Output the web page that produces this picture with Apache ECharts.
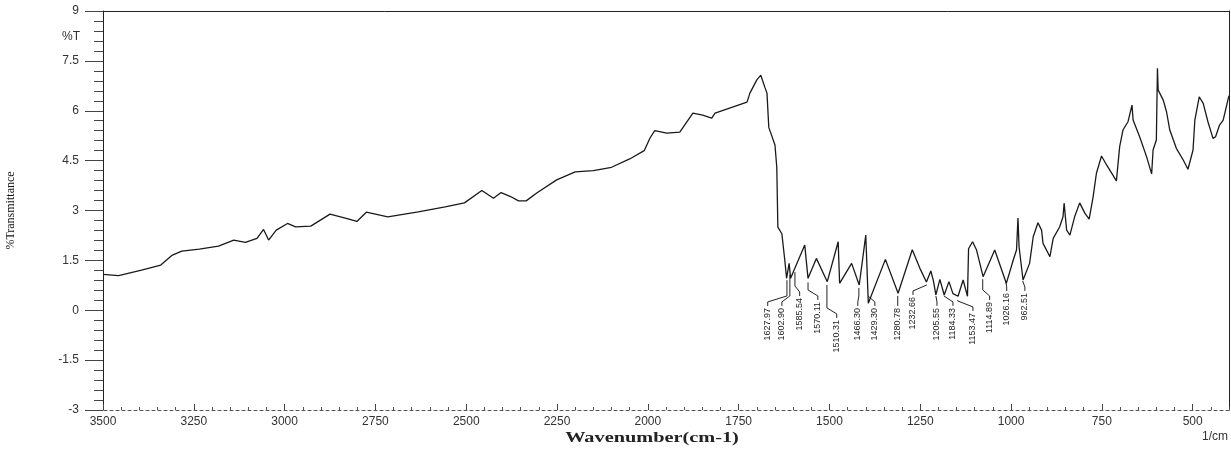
<!DOCTYPE html>
<html style="height: 100%;">
<head>
    <meta charset="UTF-8">
    <script src="https://cdn.jsdelivr.net/npm/echarts/dist/echarts.min.js"></script>
</head>
<body style="height: 100%; margin: 0; background: #fff;">
    <div id="chart" style="width: 1231px; height: 452px;"></div>

    <script type="text/javascript">
        // FTIR spectrum (wavenumber in 1/cm, %T)
        var wavenumber = [
            3500, 3457, 3394, 3341, 3309, 3283, 3235, 3182, 3140, 3108,
            3076, 3058, 3044, 3023, 2992, 2970, 2928, 2875, 2833, 2801,
            2775, 2716, 2632, 2558, 2505, 2457, 2425, 2404, 2378, 2356,
            2335, 2304, 2251, 2200, 2150, 2100, 2050, 2010, 1994, 1981,
            1948, 1912, 1876, 1849, 1824, 1815, 1727, 1719, 1700, 1689,
            1678, 1672, 1667, 1650, 1645, 1642, 1631, 1623, 1618, 1611,
            1607, 1568, 1559, 1536, 1506, 1476, 1472, 1439, 1418, 1400,
            1393, 1346, 1311, 1272, 1251, 1233, 1221, 1214, 1207, 1196,
            1184, 1171, 1160, 1146, 1132, 1120, 1117, 1106, 1095, 1077,
            1045, 1013, 994, 985, 981, 978, 967, 949, 939, 926,
            916, 912, 893, 884, 866, 857, 854, 847, 838, 825,
            811, 797, 785, 774, 765, 751, 737, 710, 701, 692,
            678, 667, 664, 646, 627, 613, 609, 600, 597, 595,
            581, 572, 563, 545, 526, 513, 499, 494, 482, 471,
            458, 444, 437, 426, 416, 402, 400
        ];
        var transmittance = [
            1.08, 1.04, 1.21, 1.36, 1.66, 1.78, 1.84, 1.93, 2.11, 2.04,
            2.16, 2.43, 2.11, 2.41, 2.61, 2.51, 2.53, 2.89, 2.77, 2.67,
            2.95, 2.81, 2.96, 3.11, 3.23, 3.60, 3.37, 3.54, 3.42, 3.29,
            3.29, 3.54, 3.92, 4.16, 4.20, 4.30, 4.55, 4.80, 5.18, 5.40,
            5.33, 5.36, 5.93, 5.87, 5.78, 5.93, 6.26, 6.53, 6.93, 7.07,
            6.71, 6.53, 5.50, 4.97, 4.30, 2.50, 2.30, 1.51, 0.96, 1.41,
            0.96, 1.96, 0.96, 1.56, 0.86, 2.06, 0.81, 1.41, 0.76, 2.26,
            0.21, 1.53, 0.51, 1.82, 1.26, 0.85, 1.18, 0.90, 0.46, 0.93,
            0.46, 0.86, 0.50, 0.42, 0.91, 0.42, 1.85, 2.06, 1.81, 1.01,
            1.81, 0.81, 1.51, 1.81, 2.77, 1.91, 0.91, 1.41, 2.21, 2.63,
            2.41, 2.01, 1.61, 2.16, 2.51, 2.81, 3.22, 2.41, 2.26, 2.81,
            3.23, 2.92, 2.74, 3.42, 4.12, 4.64, 4.37, 3.89, 4.92, 5.42,
            5.67, 6.17, 5.72, 5.22, 4.62, 4.10, 4.82, 5.12, 7.28, 6.62,
            6.32, 5.97, 5.42, 4.87, 4.52, 4.24, 4.82, 5.72, 6.42, 6.22,
            5.67, 5.17, 5.22, 5.57, 5.72, 6.37, 6.45
        ];

        // peak picks (text) and the wavenumber the leader line points at
        var peakText = ['1627.97', '1602.90', '1585.54', '1570.11', '1510.31', '1466.30', '1429.30',
            '1280.78', '1232.66', '1205.55', '1184.33', '1153.47', '1114.89', '1026.16', '962.51'];
        var peakAnchor = [1617, 1609, 1595, 1559, 1507, 1419, 1394, 1312, 1232, 1207, 1185, 1147, 1078, 1015, 968];
        // where the rotated labels sit (axis units: x in 1/cm, top of text in %T)
        var labelX = [1670, 1631, 1582, 1532, 1480, 1422, 1375, 1312, 1270, 1204, 1160, 1105, 1059, 1012, 962];
        var labelTop = [0.07, 0.07, 0.37, 0.25, -0.29, 0.07, 0.07, 0.07, 0.40, 0.07, 0.07, -0.08, 0.25, 0.52, 0.52];

        var majorTicks = [500, 750, 1000, 1250, 1500, 1750, 2000, 2250, 2500, 2750, 3000, 3250, 3500];

        // %T of the spectrum at a given wavenumber (for where a leader line ends)
        function valueAt(w) {
            for (var i = 0; i < wavenumber.length - 1; i++) {
                if (wavenumber[i] >= w && wavenumber[i + 1] <= w) {
                    var t = (wavenumber[i] - w) / (wavenumber[i] - wavenumber[i + 1]);
                    return transmittance[i] + t * (transmittance[i + 1] - transmittance[i]);
                }
            }
            return transmittance[transmittance.length - 1];
        }

        var spectrum = wavenumber.map(function (w, i) { return [w, transmittance[i]]; });
        var peaks = peakText.map(function (t, i) {
            return [labelX[i], labelTop[i], peakAnchor[i], valueAt(peakAnchor[i])];
        });

        var sansFont = '"Liberation Sans", Arial, sans-serif';
        var axisColor = '#333';

        var chart = echarts.init(document.getElementById('chart'), null, { renderer: 'canvas' });

        var option = {
            animation: false,
            backgroundColor: '#fff',
            grid: {
                left: 103,
                right: 2,
                top: 11,
                bottom: 42,
                outerBoundsMode: 'none',
                containLabel: false
            },
            xAxis: [
                {
                    // minor ticks + dashed base line
                    type: 'value',
                    min: 400,
                    max: 3500,
                    interval: 50,
                    inverse: true,
                    position: 'bottom',
                    axisLine: { show: true, onZero: false, lineStyle: { color: '#555', width: 1, type: [3, 3] } },
                    axisTick: { show: true, inside: true, length: 3, lineStyle: { color: '#555', width: 1 } },
                    axisLabel: { show: false },
                    splitLine: { show: false }
                },
                {
                    // major ticks and labels every 250
                    type: 'value',
                    min: 400,
                    max: 3500,
                    inverse: true,
                    position: 'bottom',
                    axisLine: { show: false, onZero: false },
                    axisTick: { show: true, inside: true, length: 6, customValues: majorTicks,
                        lineStyle: { color: '#444', width: 1 } },
                    axisLabel: { show: true, customValues: majorTicks, margin: 6,
                        formatter: function (v) { return String(v); },
                        color: axisColor, fontFamily: sansFont, fontSize: 12 },
                    splitLine: { show: false }
                },
                {
                    // top frame
                    type: 'value',
                    min: 400,
                    max: 3500,
                    inverse: true,
                    position: 'top',
                    axisLine: { show: true, onZero: false, lineStyle: { color: '#222', width: 1 } },
                    axisTick: { show: false },
                    axisLabel: { show: false },
                    splitLine: { show: false }
                }
            ],
            yAxis: [
                {
                    type: 'value',
                    min: -3,
                    max: 9,
                    interval: 1.5,
                    name: '%Transmittance',
                    nameLocation: 'middle',
                    nameRotate: 90,
                    nameGap: 86,
                    nameTextStyle: { fontFamily: '"Liberation Serif", "Times New Roman", serif',
                        fontSize: 12, color: '#111' },
                    axisLine: { show: true, onZero: false, lineStyle: { color: '#222', width: 1 } },
                    axisTick: { show: true, inside: false, length: 18, lineStyle: { color: '#444', width: 1 } },
                    minorTick: { show: true, splitNumber: 5, length: 9, lineStyle: { color: '#444', width: 1 } },
                    axisLabel: { margin: 24, color: axisColor, fontFamily: sansFont, fontSize: 12 },
                    splitLine: { show: false }
                },
                {
                    // right frame
                    type: 'value',
                    min: -3,
                    max: 9,
                    position: 'right',
                    axisLine: { show: true, onZero: false, lineStyle: { color: '#222', width: 1 } },
                    axisTick: { show: false },
                    axisLabel: { show: false },
                    splitLine: { show: false }
                }
            ],
            graphic: [
                {
                    type: 'text', x: 80, y: 37,
                    style: { text: '%T', align: 'right', verticalAlign: 'middle',
                        font: '12px ' + sansFont, fill: axisColor }
                },
                {
                    type: 'text', x: 652, y: 438, scaleX: 1.45,
                    style: { text: 'Wavenumber(cm-1)', align: 'center', verticalAlign: 'middle',
                        font: 'bold 14px "Liberation Serif", "Times New Roman", serif', fill: '#222' }
                },
                {
                    type: 'text', x: 1228, y: 437,
                    style: { text: '1/cm', align: 'right', verticalAlign: 'middle',
                        font: '12px ' + sansFont, fill: axisColor }
                }
            ],
            series: [
                {
                    name: 'Spectrum',
                    type: 'line',
                    xAxisIndex: 0,
                    yAxisIndex: 0,
                    data: spectrum,
                    showSymbol: false,
                    smooth: false,
                    lineStyle: { color: '#1a1a1a', width: 1.3 },
                    z: 3
                },
                {
                    name: 'Peaks',
                    type: 'custom',
                    xAxisIndex: 0,
                    yAxisIndex: 0,
                    data: peaks,
                    encode: { x: [0, 2], y: [1, 3] },
                    renderItem: function (params, api) {
                        var lp = api.coord([api.value(0), api.value(1)]);
                        var ap = api.coord([api.value(2), api.value(3)]);
                        var bendY = lp[1] - 6;
                        var kneeY = lp[1] - 12;
                        var topY = Math.min(ap[1] + 4, kneeY);
                        return {
                            type: 'group',
                            children: [
                                {
                                    type: 'polyline',
                                    shape: { points: [[lp[0], lp[1] - 2], [lp[0], bendY], [ap[0], kneeY], [ap[0], topY]] },
                                    style: { stroke: '#222', fill: null, lineWidth: 1 }
                                },
                                {
                                    type: 'text',
                                    x: lp[0],
                                    y: lp[1],
                                    rotation: Math.PI / 2,
                                    style: {
                                        text: peakText[params.dataIndex],
                                        align: 'right',
                                        verticalAlign: 'middle',
                                        font: '9px "Liberation Sans Narrow", "Liberation Sans", sans-serif',
                                        fill: '#222'
                                    }
                                }
                            ]
                        };
                    },
                    z: 4
                }
            ]
        };

        chart.setOption(option);
        window.addEventListener('resize', chart.resize);
    </script>
</body>
</html>
